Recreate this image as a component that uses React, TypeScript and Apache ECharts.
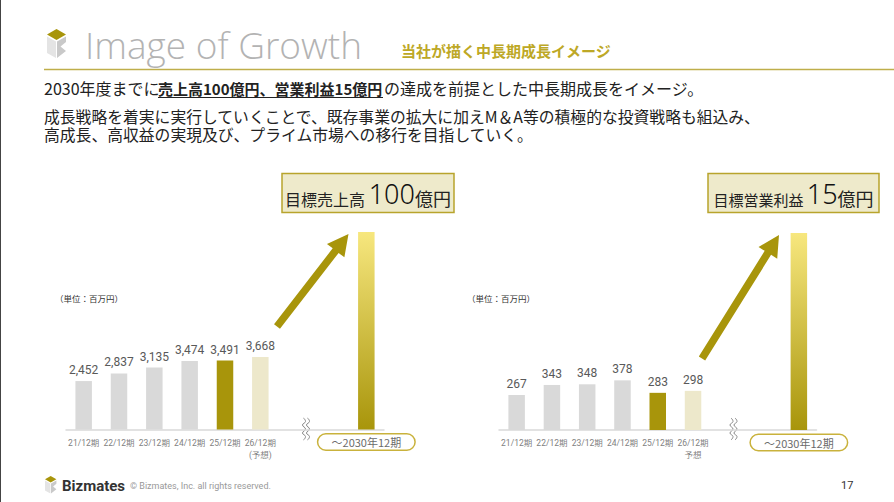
import React, { useEffect, useRef } from 'react';
import * as echarts from 'echarts';

// ---- data ----
const salesCategories = ['21/12期', '22/12期', '23/12期', '24/12期', '25/12期', '26/12期\n(予想)', '', '', '～2030年12期'];
const profitCategories = ['21/12期', '22/12期', '23/12期', '24/12期', '25/12期', '26/12期\n予想', '', '', '～2030年12期'];
const salesValues: (number | null)[] = [2452, 2837, 3135, 3474, 3491, 3668, null, null, 10000];
const profitValues: (number | null)[] = [267, 343, 348, 378, 283, 298, null, null, 1500];
const barKinds = ['past', 'past', 'past', 'past', 'actual', 'forecast', 'gap', 'gap', 'target'];
const salesMax = 10000;
const profitMax = 1500;

const JP = '"Noto Sans CJK JP", "Noto Sans", sans-serif';
const NUM = 'Roboto, "Noto Sans CJK JP", sans-serif';
const GOLD = '#a8950b';

function arrowPoints(x1: number, y1: number, x2: number, y2: number, shaft: number, headW: number, headL: number) {
  const dx = x2 - x1, dy = y2 - y1;
  const L = Math.hypot(dx, dy);
  const ux = dx / L, uy = dy / L;
  const px = -uy, py = ux;
  const bx = x2 - ux * headL, by = y2 - uy * headL;
  return [
    [x1 + px * shaft / 2, y1 + py * shaft / 2],
    [bx + px * shaft / 2, by + py * shaft / 2],
    [bx + px * headW / 2, by + py * headW / 2],
    [x2, y2],
    [bx - px * headW / 2, by - py * headW / 2],
    [bx - px * shaft / 2, by - py * shaft / 2],
    [x1 - px * shaft / 2, y1 - py * shaft / 2],
  ];
}

function cube(x: number, y: number, s: number) {
  return {
    type: 'group', x, y, scaleX: s, scaleY: s,
    children: [
      { type: 'polygon', shape: { points: [[9.5, 0], [19, 5.5], [9.5, 11], [0, 5.5]] }, style: { fill: GOLD } },
      { type: 'polygon', shape: { points: [[0, 7.5], [9, 12.5], [9, 29], [0, 24]] }, style: { fill: '#e4e4e4' } },
      { type: 'polygon', shape: { points: [[10, 12.5], [19, 7.5], [19, 13], [13.5, 17.5], [19, 22], [10, 29]] }, style: { fill: '#c9c9c9' } },
    ],
  };
}

function squiggle(x: number, y: number) {
  const mk = (x0: number) => ({
    type: 'polyline',
    shape: { points: [[x0, y], [x0 + 2, y + 3.5], [x0 - 1, y + 7], [x0 + 2, y + 11], [x0 - 1, y + 15], [x0 + 2, y + 18.5], [x0, y + 22]], smooth: 0.5 },
    style: { stroke: '#8a8a8a', lineWidth: 1, fill: null },
  });
  return [mk(x), mk(x + 4)];
}

function barSeries(values: (number | null)[], idx: number) {
  return {
    type: 'bar',
    xAxisIndex: idx,
    yAxisIndex: idx,
    barWidth: 16.5,
    data: values.map((v, i) => {
      const k = barKinds[i];
      let color: any = '#d9d9d9';
      if (k === 'actual') color = GOLD;
      if (k === 'forecast') color = '#ede8cb';
      if (k === 'target') color = new echarts.graphic.LinearGradient(0, 0, 0, 1, [
        { offset: 0, color: '#f7e77e' },
        { offset: 1, color: '#a8950b' },
      ]);
      return {
        value: v === null ? '-' : v,
        itemStyle: { color },
        label: { show: k !== 'target' && k !== 'gap' },
      };
    }),
    label: {
      show: true,
      position: 'top',
      distance: 5,
      fontSize: 12,
      color: '#595959',
      fontFamily: NUM,
      formatter: (p: any) => Number(p.value).toLocaleString('en-US'),
    },
  };
}

function xAxis(cats: string[], idx: number) {
  return {
    type: 'category',
    gridIndex: idx,
    data: cats,
    axisLine: { lineStyle: { color: '#d9d9d9', width: 1.5 } },
    axisTick: { show: false },
    axisLabel: {
      interval: 0,
      margin: 7,
      color: '#7f7f7f',
      fontSize: 8.5,
      lineHeight: 12,
      fontFamily: NUM,
      formatter: (v: string, i: number) => (barKinds[i] === 'target' ? `{box|${v}}` : v),
      rich: {
        box: {
          fontSize: 11,
          lineHeight: 11,
          color: '#6b6b6b',
          fontFamily: JP,
          borderColor: '#c9b23c',
          borderWidth: 1.5,
          borderRadius: 8,
          padding: [2, 8],
          width: 80,
          align: 'center',
          backgroundColor: '#fff',
        },
      },
    },
  };
}

export default function App() {
  const ref = useRef<HTMLDivElement>(null);
  useEffect(() => {
    if (!ref.current) return;
    const chart = echarts.init(ref.current, null, { renderer: 'svg' });
    const text = (x: number, y: number, t: string, font: string, fill: string, extra: any = {}) => ({
      type: 'text', x, y,
      style: { text: t, font, fill, align: 'left', verticalAlign: 'middle', ...extra },
    });
    const graphic: any[] = [
      { type: 'line', shape: { x1: 0.5, y1: 0, x2: 0.5, y2: 502 }, style: { stroke: '#444', lineWidth: 1 } },
      cube(47, 29, 1),
      text(85, 44, 'Image of Growth', `300 37px "Open Sans", sans-serif`, '#b3b3b3'),
      text(401, 50, '当社が描く中長期成長イメージ', `bold 15px ${JP}`, '#bda826'),
      { type: 'line', shape: { x1: 44, y1: 69.5, x2: 894, y2: 69.5 }, style: { stroke: '#bfae4a', lineWidth: 1.5 } },
      text(44, 88, '2030年度までに', `16px ${JP}`, '#222'),
      text(158, 88, '売上高100億円、営業利益15億円', `bold 15px ${JP}`, '#222'),
      { type: 'line', shape: { x1: 158, y1: 97.5, x2: 383, y2: 97.5 }, style: { stroke: '#222', lineWidth: 1 } },
      text(384, 88, 'の達成を前提とした中長期成長をイメージ。', `16px ${JP}`, '#222'),
      text(44, 116, '成長戦略を着実に実行していくことで、既存事業の拡大に加えM＆A等の積極的な投資戦略も組込み、', `15.8px ${JP}`, '#222'),
      text(44, 134, '高成長、高収益の実現及び、プライム市場への移行を目指していく。', `15.8px ${JP}`, '#222'),
      text(55, 298, '（単位：百万円）', `8.5px ${JP}`, '#333'),
      text(467, 298, '（単位：百万円）', `8.5px ${JP}`, '#333'),
      // target boxes
      { type: 'rect', shape: { x: 282, y: 173.5, width: 172, height: 39 }, style: { fill: '#eeeacb', stroke: '#b8a42c', lineWidth: 1.5 } },
      {
        type: 'text', x: 368, y: 193,
        style: {
          text: '{a|目標売上高 }{b|100}{c|億円}', align: 'center', verticalAlign: 'middle',
          rich: {
            a: { font: `16px ${JP}`, fill: '#222', verticalAlign: 'bottom' },
            b: { font: `300 27px "Noto Sans", sans-serif`, fill: '#111', verticalAlign: 'bottom' },
            c: { font: `18px ${JP}`, fill: '#222', verticalAlign: 'bottom' },
          },
        },
      },
      { type: 'rect', shape: { x: 708, y: 173.5, width: 171, height: 39 }, style: { fill: '#eeeacb', stroke: '#b8a42c', lineWidth: 1.5 } },
      {
        type: 'text', x: 793.5, y: 193,
        style: {
          text: '{a|目標営業利益 }{b|15}{c|億円}', align: 'center', verticalAlign: 'middle',
          rich: {
            a: { font: `15px ${JP}`, fill: '#222', verticalAlign: 'bottom' },
            b: { font: `300 27px "Noto Sans", sans-serif`, fill: '#111', verticalAlign: 'bottom' },
            c: { font: `18px ${JP}`, fill: '#222', verticalAlign: 'bottom' },
          },
        },
      },
      // arrows
      { type: 'polygon', shape: { points: arrowPoints(277, 326.5, 348.5, 234, 7.5, 22, 21) }, style: { fill: GOLD } },
      { type: 'polygon', shape: { points: arrowPoints(702, 358.5, 779, 235, 7.5, 22, 21) }, style: { fill: GOLD } },
      ...squiggle(303.5, 418),
      ...squiggle(731, 418),
      // footer
      cube(45, 476, 0.6),
      text(62, 486, 'Bizmates', `bold 15px Roboto, sans-serif`, '#333'),
      text(130, 486, '© Bizmates, Inc. all rights reserved.', `9px Roboto, sans-serif`, '#999'),
      text(841, 485, '17', `11px Roboto, sans-serif`, '#333'),
    ];
    chart.setOption({
      animation: false,
      backgroundColor: '#fff',
      grid: [
        { left: 66, top: 232, width: 318, height: 197.5 },
        { left: 499, top: 233, width: 317.5, height: 197 },
      ],
      xAxis: [xAxis(salesCategories, 0), xAxis(profitCategories, 1)],
      yAxis: [
        { type: 'value', gridIndex: 0, min: 0, max: salesMax, show: false },
        { type: 'value', gridIndex: 1, min: 0, max: profitMax, show: false },
      ],
      series: [barSeries(salesValues, 0), barSeries(profitValues, 1)],
      graphic,
    });
    return () => chart.dispose();
  }, []);
  return <div ref={ref} style={{ position: 'fixed', left: 0, top: 0, width: 894, height: 502 }} />;
}
